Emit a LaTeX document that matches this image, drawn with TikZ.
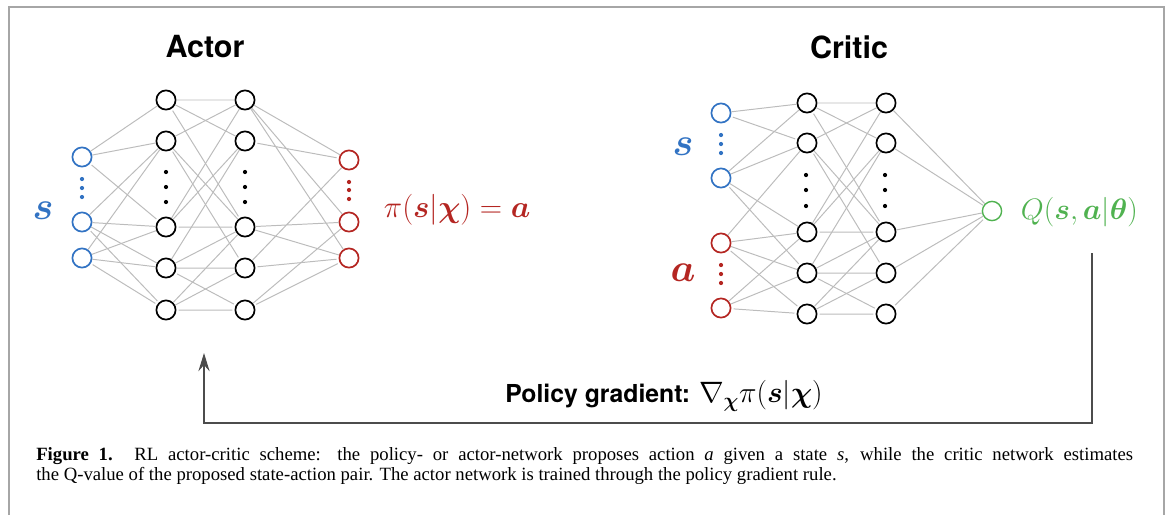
\RequirePackage{fix-cm}
\documentclass[tikz,border=0pt]{standalone}
\usepackage{amsmath}
\usepackage{bm}
\usepackage{fontspec}
\usepackage{tikz}
\usetikzlibrary{arrows.meta}

\newfontfamily\headfont{TeX Gyre Heros}
\newfontfamily\capfont{Liberation Serif}
\definecolor{sblue}{RGB}{50,115,195}
\definecolor{ared}{RGB}{180,38,34}
\definecolor{qgreen}{RGB}{80,178,80}
\definecolor{wgray}{RGB}{188,188,188}

\begin{document}
\begin{tikzpicture}[x=0.025cm, y=-0.025cm,
    neuron/.style={circle, draw=black, line width=1.2pt, minimum size=0.48cm, inner sep=0pt},
    inblue/.style={neuron, draw=sblue},
    outred/.style={neuron, draw=ared},
    outgreen/.style={neuron, draw=qgreen, line width=1pt},
    edge/.style={draw=wgray, line width=0.7pt, shorten <=1.5pt, shorten >=1.5pt},
    title/.style={font=\headfont\bfseries\fontsize{21.7}{26}\selectfont},
    feedback/.style={draw=black!70, line width=1pt, -{Stealth[length=13pt, width=8pt, inset=4.5pt]}}]
    \useasboundingbox (0,0) rectangle (1168,515);

    % frame
    \draw[gray!70, line width=0.8pt] (9,515) -- (9,7) -- (1164,7) -- (1164,515);

    % actor
    \node[title] (actor) at (205,47) {Actor};
    \node[inblue] (ai1) at (82,157) {};
    \node[inblue] (ai2) at (82,222) {};
    \node[inblue] (ai3) at (82,258) {};
    \node[neuron] (ah1a) at (166,100) {};
    \node[neuron] (ah1b) at (166,141) {};
    \node[neuron] (ah1c) at (166,227) {};
    \node[neuron] (ah1d) at (166,268) {};
    \node[neuron] (ah1e) at (166,310) {};
    \node[neuron] (ah2a) at (245,100) {};
    \node[neuron] (ah2b) at (245,141) {};
    \node[neuron] (ah2c) at (245,227) {};
    \node[neuron] (ah2d) at (245,268) {};
    \node[neuron] (ah2e) at (245,310) {};
    \node[outred] (ao1) at (349,160) {};
    \node[outred] (ao2) at (349,222) {};
    \node[outred] (ao3) at (349,258) {};

    \fill[sblue] (82,179) circle (1.5pt) (82,188) circle (1.5pt) (82,197) circle (1.5pt);
    \fill (166,172) circle (1.5pt) (166,187) circle (1.5pt) (166,202) circle (1.5pt);
    \fill (245,172) circle (1.5pt) (245,187) circle (1.5pt) (245,202) circle (1.5pt);
    \fill[ared] (349,182) circle (1.5pt) (349,190) circle (1.5pt) (349,199) circle (1.5pt);

    \draw[edge] (ai1) -- (ah1a) (ai1) -- (ah1b) (ai1) -- (ah1c);
    \draw[edge] (ai2) -- (ah1b) (ai2) -- (ah1c) (ai2) -- (ah1d) (ai2) -- (ah1e);
    \draw[edge] (ai3) -- (ah1b) (ai3) -- (ah1c) (ai3) -- (ah1d) (ai3) -- (ah1e);
    \draw[edge] (ah1a) -- (ah2a) (ah1a) -- (ah2b) (ah1a) -- (ah2c);
    \draw[edge] (ah1b) -- (ah2a) (ah1b) -- (ah2c) (ah1b) -- (ah2d);
    \draw[edge] (ah1c) -- (ah2a) (ah1c) -- (ah2b) (ah1c) -- (ah2c);
    \draw[edge] (ah1d) -- (ah2b) (ah1d) -- (ah2c) (ah1d) -- (ah2d) (ah1d) -- (ah2e);
    \draw[edge] (ah1e) -- (ah2c) (ah1e) -- (ah2d) (ah1e) -- (ah2e);
    \draw[edge] (ah2a) -- (ao1) (ah2a) -- (ao2) (ah2a) -- (ao3) (ah2b) -- (ao1);
    \draw[edge] (ah2c) -- (ao2) (ah2c) -- (ao3) (ah2d) -- (ao1) (ah2d) -- (ao3);
    \draw[edge] (ah2e) -- (ao2) (ah2e) -- (ao3);

    \node[text=sblue, font=\fontsize{28}{30}\selectfont] (aslab) at (43,211) {$\bm{s}$};
    \node[anchor=west, text=ared, font=\fontsize{22}{26}\selectfont] (pilab) at (379,210)
      {$\pi(\bm{s}|\bm{\chi}) = \bm{a}$};

    % critic
    \node[title] (critic) at (849,47) {Critic};
    \node[inblue] (cs1) at (721,113) {};
    \node[inblue] (cs2) at (721,178) {};
    \node[outred] (ca1) at (721,243) {};
    \node[outred] (ca2) at (721,308) {};
    \node[neuron] (ch1a) at (807,103) {};
    \node[neuron] (ch1b) at (807,143) {};
    \node[neuron] (ch1c) at (807,232) {};
    \node[neuron] (ch1d) at (807,273) {};
    \node[neuron] (ch1e) at (807,314) {};
    \node[neuron] (ch2a) at (886,103) {};
    \node[neuron] (ch2b) at (886,143) {};
    \node[neuron] (ch2c) at (886,232) {};
    \node[neuron] (ch2d) at (886,273) {};
    \node[neuron] (ch2e) at (886,314) {};
    \node[outgreen] (cq) at (992,211) {};

    \fill[sblue] (721,135) circle (1.5pt) (721,144) circle (1.5pt) (721,153) circle (1.5pt);
    \fill[ared] (721,265) circle (1.5pt) (721,274) circle (1.5pt) (721,283) circle (1.5pt);
    \fill (806,175) circle (1.5pt) (806,190) circle (1.5pt) (806,206) circle (1.5pt);
    \fill (885,175) circle (1.5pt) (885,190) circle (1.5pt) (885,206) circle (1.5pt);

    \draw[edge] (cs1) -- (ch1a) (cs1) -- (ch1b);
    \draw[edge] (cs2) -- (ch1a) (cs2) -- (ch1b) (cs2) -- (ch1c) (cs2) -- (ch1d);
    \draw[edge] (ca1) -- (ch1b) (ca1) -- (ch1c) (ca1) -- (ch1d) (ca1) -- (ch1e);
    \draw[edge] (ca2) -- (ch1c) (ca2) -- (ch1d) (ca2) -- (ch1e);
    \draw[edge] (ch1a) -- (ch2a) (ch1a) -- (ch2b) (ch1a) -- (ch2c);
    \draw[edge] (ch1b) -- (ch2a) (ch1b) -- (ch2c) (ch1b) -- (ch2d);
    \draw[edge] (ch1c) -- (ch2a) (ch1c) -- (ch2b) (ch1c) -- (ch2c);
    \draw[edge] (ch1d) -- (ch2b) (ch1d) -- (ch2c) (ch1d) -- (ch2d) (ch1d) -- (ch2e);
    \draw[edge] (ch1e) -- (ch2c) (ch1e) -- (ch2d) (ch1e) -- (ch2e);
    \draw[edge] (ch2a) -- (cq) (ch2b) -- (cq) (ch2c) -- (cq) (ch2d) -- (cq) (ch2e) -- (cq);

    \node[text=sblue, font=\fontsize{28}{30}\selectfont] (cslab) at (683,147) {$\bm{s}$};
    \node[text=ared, font=\fontsize{28}{30}\selectfont] (calab) at (683,273) {$\bm{a}$};
    \node[anchor=west, text=qgreen, font=\fontsize{21}{25}\selectfont] (qlab) at (1016,212)
      {$Q(\bm{s},\bm{a}|\bm{\theta})$};

    % policy gradient back to the actor
    \coordinate (qfb) at (1092,253);
    \coordinate (fbturn) at (1092,423);
    \coordinate (afb) at (204,353);
    \draw[feedback] (qfb) -- (fbturn) -| (afb);
    \node[font=\fontsize{21}{24}\selectfont] (pglab) at (664,396)
      {{\headfont\bfseries\fontsize{17.6}{20}\selectfont Policy gradient:}\ $\nabla_{\bm{\chi}}\pi(\bm{s}|\bm{\chi})$};

    % caption
    \node[anchor=base west, inner sep=0pt, font=\capfont\fontsize{13.3}{15}\selectfont] (cap1) at (36,460)
      {\makebox[780pt][s]{\textbf{Figure 1.} RL actor-critic scheme: the policy- or actor-network proposes action \textit{a} given a state \textit{s}, while the critic network estimates}};
    \node[anchor=base west, inner sep=0pt, font=\capfont\fontsize{13.3}{15}\selectfont] (cap2) at (36,480)
      {the Q-value of the proposed state-action pair. The actor network is trained through the policy gradient rule.};
\end{tikzpicture}
\end{document}
